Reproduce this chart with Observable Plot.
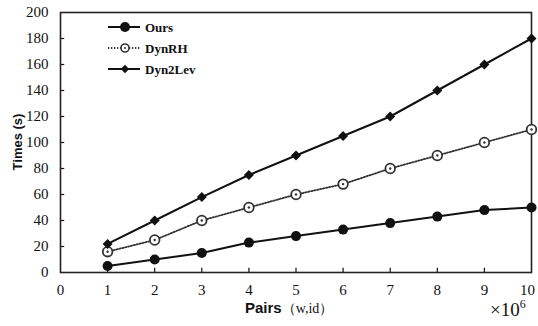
<!DOCTYPE html>
<html><head><meta charset="utf-8">
<script src="https://cdn.jsdelivr.net/npm/d3@7"></script>
<script src="https://cdn.jsdelivr.net/npm/@observablehq/plot@0.6"></script>
<style>
body{margin:0;background:#fff;}
#chart{position:relative;width:538px;height:326px;}
</style>
</head><body>
<div id="chart"></div>
<script>
const pairs = [1,2,3,4,5,6,7,8,9,10];
const ours = [5,10,15,23,28,33,38,43,48,50];
const dynRH = [16,25,40,50,60,68,80,90,100,110];
const dyn2Lev = [22,40,58,75,90,105,120,140,160,180];
const seriesNames = ["Ours","DynRH","Dyn2Lev"];
const xTicks = [0,1,2,3,4,5,6,7,8,9,10];
const yTicks = [0,20,40,60,80,100,120,140,160,180,200];

const rows = (vals) => pairs.map((p,i)=>({x:p,y:vals[i]}));
const dOurs = rows(ours), dRH = rows(dynRH), d2L = rows(dyn2Lev);
const ink = "#111";
const serif = "Liberation Serif, Times New Roman, serif";
const sans = "Liberation Sans, Arial, sans-serif";

const plot = Plot.plot({
  width: 538, height: 326,
  marginLeft: 60, marginRight: 7, marginTop: 12, marginBottom: 54,
  style: {fontFamily: serif, fontSize: "15px", color: ink, background: "#fff"},
  x: {domain:[0,10], ticks: xTicks, label: null},
  y: {domain:[0,200], ticks: yTicks, label: null},
  marks: [
    Plot.axisX({ticks: xTicks, tickSize: 0, tickPadding: 12, fontSize: 15, label: null}),
    Plot.axisY({ticks: yTicks, tickSize: 0, tickPadding: 12, fontSize: 15, label: null}),
    Plot.ruleX(xTicks.slice(1,-1), {y1: 0, y2: 3.2, stroke: ink, strokeWidth: 1.2}),
    Plot.ruleY(yTicks.slice(1,-1), {x1: 0, x2: 0.09, stroke: ink, strokeWidth: 1.2}),
    Plot.frame({stroke: "#222", strokeWidth: 1.6}),
    Plot.line(dRH, {x:"x", y:"y", stroke:"#333", strokeWidth: 1.8, strokeDasharray: "1.3,1.7"}),
    Plot.line(d2L, {x:"x", y:"y", stroke: ink, strokeWidth: 2}),
    Plot.line(dOurs, {x:"x", y:"y", stroke: ink, strokeWidth: 2}),
    Plot.dot(dOurs, {x:"x", y:"y", r: 5, fill: ink, stroke: "none"}),
    Plot.dot(dRH, {x:"x", y:"y", r: 4.8, fill: "#fff", stroke: "#333", strokeWidth: 1.8}),
    Plot.dot(dRH, {x:"x", y:"y", r: 1.2, fill: "#333"}),
    Plot.dot(d2L, {x:"x", y:"y", r: 4.5, symbol: "diamond2", fill: ink, stroke: "none"})
  ]
});
document.getElementById("chart").appendChild(plot);

const svg = d3.select(plot);
svg.selectAll("text").each(function(){ this.style.fontFamily = serif; });
svg.selectAll('g[aria-label="x-axis tick label"] text').filter(function(){ return this.textContent === "10"; })
  .attr("dx", -4);

const lg = svg.append("g").attr("text-anchor","start");
const legRows = [27,48,69];
seriesNames.forEach((name,i)=>{
  const y = legRows[i];
  lg.append("line").attr("x1",108).attr("x2",140).attr("y1",y).attr("y2",y)
    .attr("stroke", i===1 ? "#333" : ink).attr("stroke-width", i===1 ? 1.8 : 2)
    .attr("stroke-dasharray", i===1 ? "1.3,1.7" : null);
  if (i===0) lg.append("circle").attr("cx",125).attr("cy",y).attr("r",5).attr("fill",ink);
  if (i===1) { lg.append("circle").attr("cx",125).attr("cy",y).attr("r",4).attr("fill","#fff").attr("stroke","#333").attr("stroke-width",1.6);
               lg.append("circle").attr("cx",125).attr("cy",y).attr("r",1).attr("fill","#333"); }
  if (i===2) lg.append("path").attr("d", d3.symbol(d3.symbolDiamond2, 45)()).attr("transform",`translate(125,${y})`).attr("fill",ink);
  lg.append("text").attr("x",145).attr("y",y).attr("dy","0.35em")
    .style("font-family",serif).attr("font-size",13).attr("font-weight","bold")
    .attr("fill",ink).text(name);
});

svg.append("text").attr("transform","translate(22,142) rotate(-90)").attr("text-anchor","middle")
  .style("font-family",sans).attr("font-weight","bold").attr("font-size",13)
  .attr("fill",ink).text("Times (s)");
const xt = svg.append("text").attr("x",245).attr("y",313).attr("text-anchor","start").attr("fill",ink);
xt.append("tspan").style("font-family",sans).attr("font-weight","bold").attr("font-size",15).text("Pairs");
xt.append("tspan").style("font-family",serif).attr("font-size",14).text("（w,id）");
const sx = svg.append("text").attr("x",490).attr("y",316).attr("text-anchor","start").attr("fill",ink).style("font-family",serif).attr("font-size",19);
sx.append("tspan").text("×10");
sx.append("tspan").attr("font-size",12).attr("dy",-8).text("6");
</script>
</body></html>
